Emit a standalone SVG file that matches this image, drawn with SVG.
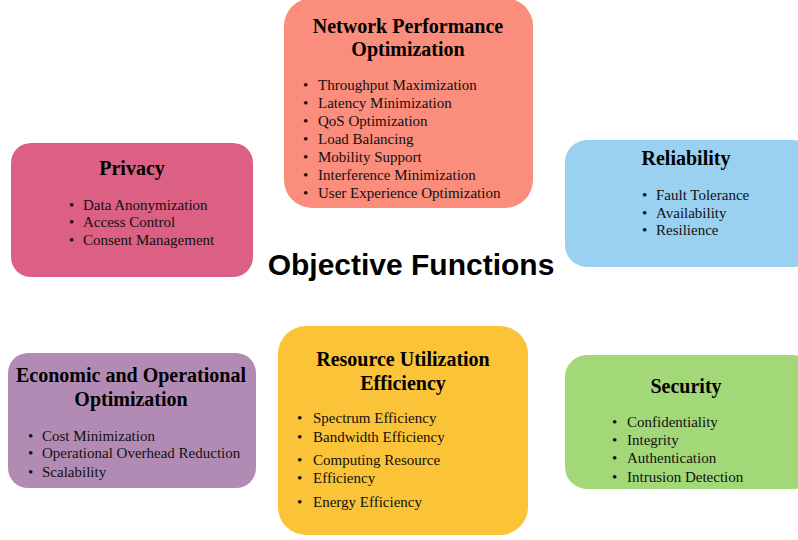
<svg xmlns="http://www.w3.org/2000/svg" width="798" height="540" viewBox="0 0 798 540">
<style>
.t{font-family:"Liberation Serif","Times New Roman",serif;font-weight:bold;font-size:20px;fill:#000;text-anchor:middle}
.i{font-family:"Liberation Serif","Times New Roman",serif;font-size:15px;fill:#111}
.main{font-family:"Liberation Sans",Arial,sans-serif;font-weight:bold;font-size:30px;fill:#000;text-anchor:middle}
</style>
<rect width="798" height="540" fill="#fff"/>
<g id="network">
<rect x="284" y="-2" width="249" height="210" rx="28" fill="#FA8D7C"/>
<text class="t" x="408" y="33">Network Performance</text>
<text class="t" x="408" y="56">Optimization</text>
<g class="i">
<text x="303" y="90">•</text><text x="318" y="90">Throughput Maximization</text>
<text x="303" y="108">•</text><text x="318" y="108">Latency Minimization</text>
<text x="303" y="126">•</text><text x="318" y="126">QoS Optimization</text>
<text x="303" y="144">•</text><text x="318" y="144">Load Balancing</text>
<text x="303" y="162">•</text><text x="318" y="162">Mobility Support</text>
<text x="303" y="180">•</text><text x="318" y="180">Interference Minimization</text>
<text x="303" y="198">•</text><text x="318" y="198">User Experience Optimization</text>
</g>
</g>
<g id="privacy">
<rect x="11" y="143" width="242" height="134" rx="20" fill="#DC6084"/>
<text class="t" x="132" y="175">Privacy</text>
<g class="i">
<text x="69" y="210">•</text><text x="83" y="210">Data Anonymization</text>
<text x="69" y="227">•</text><text x="83" y="227">Access Control</text>
<text x="69" y="245">•</text><text x="83" y="245">Consent Management</text>
</g>
</g>
<g id="reliability">
<rect x="565" y="140" width="250" height="127" rx="22" fill="#9AD0F0"/>
<text class="t" x="686" y="165">Reliability</text>
<g class="i">
<text x="642" y="200">•</text><text x="656" y="200">Fault Tolerance</text>
<text x="642" y="218">•</text><text x="656" y="218">Availability</text>
<text x="642" y="235">•</text><text x="656" y="235">Resilience</text>
</g>
</g>
<g id="economic">
<rect x="8" y="353" width="248" height="135" rx="20" fill="#B28BB5"/>
<text class="t" x="131" y="382">Economic and Operational</text>
<text class="t" x="131" y="406">Optimization</text>
<g class="i">
<text x="28" y="441">•</text><text x="42" y="441">Cost Minimization</text>
<text x="28" y="458">•</text><text x="42" y="458">Operational Overhead Reduction</text>
<text x="28" y="477">•</text><text x="42" y="477">Scalability</text>
</g>
</g>
<g id="resource">
<rect x="278" y="326" width="250" height="209" rx="28" fill="#FAC338"/>
<text class="t" x="403" y="366">Resource Utilization</text>
<text class="t" x="403" y="390">Efficiency</text>
<g class="i">
<text x="297" y="423">•</text><text x="313" y="423">Spectrum Efficiency</text>
<text x="297" y="442">•</text><text x="313" y="442">Bandwidth Efficiency</text>
<text x="297" y="465">•</text><text x="313" y="465">Computing Resource</text>
<text x="297" y="483">•</text><text x="313" y="483">Efficiency</text>
<text x="297" y="507">•</text><text x="313" y="507">Energy Efficiency</text>
</g>
</g>
<g id="security">
<rect x="565" y="355" width="250" height="134" rx="22" fill="#A3D878"/>
<text class="t" x="686" y="393">Security</text>
<g class="i">
<text x="612" y="427">•</text><text x="627" y="427">Confidentiality</text>
<text x="612" y="445">•</text><text x="627" y="445">Integrity</text>
<text x="612" y="463">•</text><text x="627" y="463">Authentication</text>
<text x="612" y="482">•</text><text x="627" y="482">Intrusion Detection</text>
</g>
</g>
<g id="connectors"></g>
<g id="title">
<text class="main" x="411" y="275">Objective Functions</text>
</g>
</svg>
